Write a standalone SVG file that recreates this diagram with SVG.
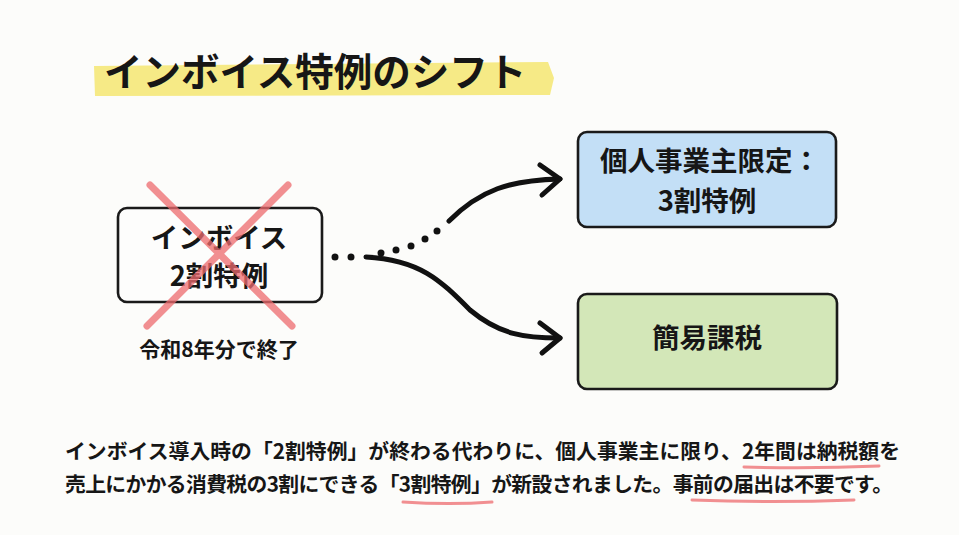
<svg xmlns="http://www.w3.org/2000/svg" width="959" height="535" viewBox="0 0 959 535">
<defs>
<style>
.t{font-family:"Noto Sans CJK JP","Noto Sans",sans-serif;font-weight:700;fill:#161616}
.box{stroke:#1a1a1a;stroke-width:2.6;stroke-linejoin:round}
.conn{fill:none;stroke:#111;stroke-width:5;stroke-linecap:round;stroke-linejoin:round}
.dot{fill:#111}
.ul{fill:none;stroke:#ee7b7e;stroke-width:3;stroke-linecap:round;opacity:0.85}
</style>
</defs>
<rect width="959" height="535" fill="#fcfcfa"/>
<g id="title">
<path d="M94,66 L548,62 L554,78 L550,95 L95,96 Z" fill="#f6ea86"/>
<text class="t" x="104" y="86" font-size="38.5" font-weight="900">インボイス特例のシフト</text>
</g>
<g id="node-old">
<rect class="box" x="118" y="208" width="204" height="94" rx="9" fill="#fdfdfc"/>
<text class="t" x="219" y="248" font-size="27.5" text-anchor="middle">インボイス</text>
<text class="t" x="219" y="286" font-size="27.5" text-anchor="middle">2割特例</text>
<path d="M150,185 L292,326 M288,185 L147,326" stroke="#ee6b6e" stroke-width="7" stroke-linecap="round" opacity="0.75"/>
<text class="t" x="219" y="357" font-size="21" text-anchor="middle">令和8年分で終了</text>
</g>
<g id="node-3wari">
<rect class="box" x="578" y="132" width="258" height="95" rx="9" fill="#c3dff6"/>
<text class="t" x="710" y="171" font-size="27.5" text-anchor="middle">個人事業主限定：</text>
<text class="t" x="707" y="211" font-size="27.5" text-anchor="middle">3割特例</text>
</g>
<g id="node-kani">
<rect class="box" x="578" y="294" width="259" height="95" rx="9" fill="#d3e7b8"/>
<text class="t" x="707" y="348" font-size="27.5" text-anchor="middle">簡易課税</text>
</g>
<g id="connectors">
<circle class="dot" cx="335" cy="257" r="3.5"/>
<circle class="dot" cx="351" cy="257" r="3.5"/>
<circle class="dot" cx="381" cy="253" r="3.5"/>
<circle class="dot" cx="396" cy="250" r="3.5"/>
<circle class="dot" cx="411" cy="246" r="3.5"/>
<circle class="dot" cx="425" cy="239" r="3.5"/>
<circle class="dot" cx="437" cy="231" r="3.5"/>
<path class="conn" d="M449,221 C480,190 510,180 560,179"/>
<path class="conn" d="M540,165 L560,179 L542,195"/>
<path class="conn" d="M366,257 C420,260 440,280 470,310 C500,335 525,338 560,338"/>
<path class="conn" d="M540,323 L560,338 L542,353"/>
</g>
<g id="caption">
<text class="t" x="65" y="459" font-size="20.8" textLength="835" lengthAdjust="spacing">インボイス導入時の「2割特例」が終わる代わりに、個人事業主に限り、2年間は納税額を</text>
<text class="t" x="65" y="492" font-size="20.8" textLength="828" lengthAdjust="spacing">売上にかかる消費税の3割にできる「3割特例」が新設されました。事前の届出は不要です。</text>
<path class="ul" d="M744,467 Q810,469 879,466"/>
<path class="ul" d="M403,502 Q450,505 492,502"/>
<path class="ul" d="M692,500 Q770,503 854,500"/>
</g>
</svg>
